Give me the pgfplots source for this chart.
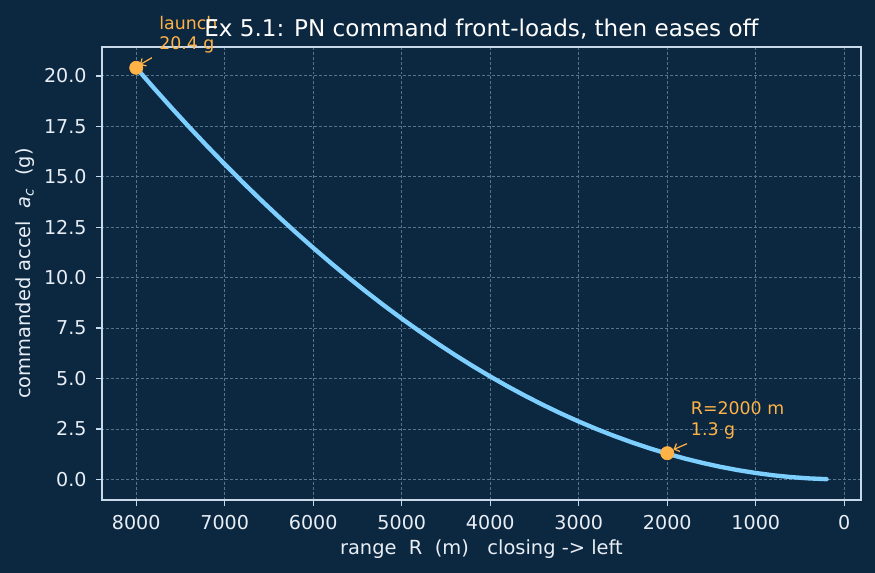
\documentclass[border=0pt]{standalone}
\usepackage{pgfplots}
\pgfplotsset{compat=1.18}
\usepackage{fontspec}
\setmainfont{DejaVu Sans}
\usetikzlibrary{arrows.meta}

\definecolor{bg}{HTML}{0C2740}
\definecolor{curve}{HTML}{7DCFFF}
\definecolor{hot}{HTML}{FFB347}
\definecolor{spine}{HTML}{C8DAEA}
\definecolor{txt}{HTML}{E8EEF5}
\definecolor{gridc}{HTML}{55758F}

% commanded acceleration (g) versus range (m)
\pgfplotstableread{
R     ac
200   0.01275
400   0.051
600   0.11475
800   0.204
1000  0.31875
1200  0.459
1400  0.62475
1600  0.816
1800  1.03275
2000  1.275
2200  1.54275
2400  1.836
2600  2.15475
2800  2.499
3000  2.86875
3200  3.264
3400  3.68475
3600  4.131
3800  4.60275
4000  5.1
4200  5.62275
4400  6.171
4600  6.74475
4800  7.344
5000  7.96875
5200  8.619
5400  9.29475
5600  9.996
5800  10.72275
6000  11.475
6200  12.25275
6400  13.056
6600  13.88475
6800  14.739
7000  15.61875
7200  16.524
7400  17.45475
7600  18.411
7800  19.39275
8000  20.4
}\accel

\begin{document}
\begin{tikzpicture}
\fill[bg] (-58.6pt,-42.0pt) rectangle (445.4pt,288.0pt);
\begin{axis}[
  width=437.4pt, height=260.8pt, scale only axis,
  x dir=reverse,
  xmin=-190, xmax=8390, ymin=-1.02, ymax=21.42,
  xtick={0,1000,...,8000},
  ytick={0,2.5,...,20},
  xtick pos=bottom, ytick pos=left,
  /pgf/number format/assume math mode=true,
  /pgf/number format/1000 sep={},
  yticklabel style={/pgf/number format/fixed, /pgf/number format/precision=1,
    /pgf/number format/fixed zerofill, anchor=east, inner sep=0pt, xshift=-5pt},
  xticklabel style={anchor=north, inner sep=0pt, yshift=-5pt},
  ticklabel style={font=\fontsize{11}{13}\selectfont, text=txt},
  tick align=outside, major tick length=3.5pt,
  tick style={color=spine, line width=0.8pt},
  axis line style={color=spine, line width=0.9pt},
  grid=major,
  major grid style={color=gridc, line width=0.5pt, dash pattern=on 1.7pt off 1.15pt},
  clip=false,
  title={Ex 5.1: PN command front-loads, then eases off},
  title style={at={(0.5,1)}, anchor=base, inner sep=0pt, yshift=0.2pt,
    font=\fontsize{13.3}{15}\selectfont, text=white},
  xlabel={range\ \ R\ \ (m)\ \ \ closing -> left},
  ylabel={commanded accel\ \ {\itshape a}\textsubscript{\itshape c}\ \ (g)},
  xlabel style={at={(axis description cs:0.5,-0.108)}, anchor=center,
    font=\fontsize{11.2}{13}\selectfont, text=txt},
  ylabel style={at={(axis description cs:-0.1005,0.5)}, anchor=center,
    font=\fontsize{11.2}{13}\selectfont, text=txt},
]
\addplot[curve, line width=2.5pt, line cap=round] table[x=R, y=ac] {\accel};

% call-outs
\draw[hot, line width=0.7pt, -{Straight Barb[length=2.5pt,width=5pt]}]
  (axis cs:7823,20.9) -- (axis cs:7960,20.55);
\draw[hot, line width=0.7pt, -{Straight Barb[length=2.5pt,width=5pt]}]
  (axis cs:1777,1.77) -- (axis cs:1930,1.48);

\addplot[only marks, mark=*, mark size=3.8pt, color=hot] coordinates {(8000,20.4) (2000,1.3)};

\node[anchor=base west, inner sep=0pt, text=hot, font=\fontsize{10}{12}\selectfont] at (axis cs:7743,22.31) {launch};
\node[anchor=base west, inner sep=0pt, text=hot, font=\fontsize{10}{12}\selectfont] at (axis cs:7743,21.32) {20.4 g};
\node[anchor=base west, inner sep=0pt, text=hot, font=\fontsize{10}{12}\selectfont] at (axis cs:1736,3.24) {R=2000 m};
\node[anchor=base west, inner sep=0pt, text=hot, font=\fontsize{10}{12}\selectfont] at (axis cs:1736,2.18) {1.3 g};
\end{axis}
\pgfresetboundingbox
\path (-58.6pt,-42.0pt) rectangle (445.4pt,288.0pt);
\end{tikzpicture}
\end{document}
